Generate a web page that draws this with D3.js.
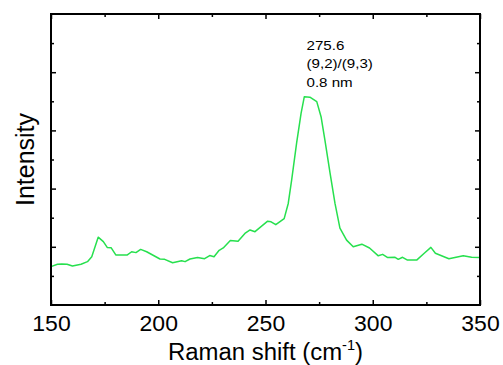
<!DOCTYPE html>
<html>
<head>
<meta charset="utf-8">
<script src="https://cdn.jsdelivr.net/npm/d3@7"></script>
<style>
  body { margin: 0; background: #fff; }
  svg { display: block; font-family: "Liberation Sans", Arial, sans-serif; }
</style>
</head>
<body>
<div id="chart"></div>
<script>
// Raman shift (cm-1) and intensity (arb. units)
const shift = [150, 153, 155, 157.5, 160, 164, 167, 169, 172, 174.4, 176.2, 178, 180.2,
  185.6, 187.6, 189.6, 191.8, 194.6, 200.8, 203, 206.7, 210.9, 212.5, 214.8, 218.3,
  221.6, 224, 226, 228.4, 230.3, 233.6, 237.2, 240.4, 242.8, 245.1, 251, 252.6, 254.8,
  258.7, 260.6, 262.2, 264.5, 266.6, 268.1, 270.7, 273.9, 275.9, 277.7, 280.1, 282.4,
  284.7, 287.8, 290.9, 294.9, 298.5, 302.6, 304.6, 307, 310.4, 311.9, 313.9, 316,
  320.6, 324, 327.1, 329.2, 335.5, 342.2, 346.1, 350];
const intensity = [1.32, 1.40, 1.41, 1.40, 1.34, 1.40, 1.49, 1.66, 2.33, 2.18, 1.98, 1.97, 1.72,
  1.72, 1.83, 1.80, 1.91, 1.83, 1.58, 1.57, 1.45, 1.52, 1.49, 1.58, 1.63,
  1.59, 1.70, 1.66, 1.88, 1.96, 2.22, 2.19, 2.46, 2.58, 2.52, 2.88, 2.86, 2.76,
  2.97, 3.49, 4.30, 5.56, 6.59, 7.16, 7.14, 6.99, 6.47, 5.67, 4.53, 3.49,
  2.64, 2.23, 2.00, 2.09, 1.96, 1.69, 1.74, 1.63, 1.64, 1.57, 1.64, 1.55,
  1.55, 1.78, 1.98, 1.78, 1.59, 1.69, 1.64, 1.63];
const xMajor = [150, 200, 250, 300, 350];
const xMinor = [175, 225, 275, 325];
const yMajor = [2, 4, 6, 8];
const yMinor = [1, 3, 5, 7, 9];
const note = ["275.6", "(9,2)/(9,3)", "0.8 nm"];

const W = 503, H = 365;
const margin = { top: 14, right: 23, bottom: 60, left: 51 };
const width = W - margin.left - margin.right;
const height = H - margin.top - margin.bottom;

const svg = d3.select("#chart").append("svg")
  .attr("width", W)
  .attr("height", H);
const g = svg.append("g")
  .attr("transform", "translate(" + margin.left + "," + margin.top + ")");

const x = d3.scaleLinear().domain([150, 350]).range([0, width]);
const y = d3.scaleLinear().domain([0, 10]).range([height, 0]);

// inward ticks on all four sides
function ticks(axis, vals, len, sel, labels) {
  const a = axis.tickValues(vals).tickSizeInner(-len).tickSizeOuter(0)
    .tickPadding(11);
  if (!labels) a.tickFormat("");
  sel.call(a);
  sel.select(".domain").remove();
  sel.selectAll("line").attr("stroke", "#000").attr("stroke-width", 1.5);
  return sel;
}
const bottom = g.append("g").attr("transform", "translate(0," + height + ")");
ticks(d3.axisBottom(x), xMajor, 5, bottom, true)
  .selectAll("text")
    .attr("font-size", 21.5)
    .attr("fill", "#000")
    .attr("transform", "scale(1.07,1)");
ticks(d3.axisBottom(x), xMinor, 3, g.append("g").attr("transform", "translate(0," + height + ")"));
ticks(d3.axisTop(x), xMajor, 5, g.append("g"));
ticks(d3.axisTop(x), xMinor, 3, g.append("g"));
ticks(d3.axisLeft(y), yMajor, 5, g.append("g"));
ticks(d3.axisLeft(y), yMinor, 3, g.append("g"));
ticks(d3.axisRight(y), yMajor, 5, g.append("g").attr("transform", "translate(" + width + ",0)"));
ticks(d3.axisRight(y), yMinor, 3, g.append("g").attr("transform", "translate(" + width + ",0)"));

const data = shift.map((s, i) => ({ s: s, v: intensity[i] }));
const line = d3.line()
  .x(d => x(d.s))
  .y(d => y(d.v));

g.append("path")
  .datum(data)
  .attr("fill", "none")
  .attr("stroke", "#27e04e")
  .attr("stroke-width", 1.5)
  .attr("stroke-linejoin", "round")
  .attr("d", line);

g.append("rect")
  .attr("width", width)
  .attr("height", height)
  .attr("fill", "none")
  .attr("stroke", "#000")
  .attr("stroke-width", 2);

// peak annotation
g.append("g").selectAll("text")
  .data(note)
  .enter().append("text")
    .attr("transform", (d, i) => "translate(255.5," + (36 + i * 18.4) + ") scale(1.12,1)")
    .attr("font-size", 13.5)
    .attr("fill", "#000")
    .text(d => d);

// axis titles
const xt = svg.append("text")
  .attr("transform", "translate(" + (margin.left + width / 2) + ",360) scale(1.04,1)")
  .attr("text-anchor", "middle")
  .attr("font-size", 23)
  .attr("fill", "#000");
xt.append("tspan").text("Raman shift (cm");
xt.append("tspan").attr("font-size", 14).attr("dy", -10).text("-1");
xt.append("tspan").attr("dy", 10).text(")");

svg.append("text")
  .attr("transform", "translate(34," + (margin.top + height / 2) + ") rotate(-90)")
  .attr("text-anchor", "middle")
  .attr("font-size", 25)
  .attr("fill", "#000")
  .text("Intensity");
</script>
</body>
</html>
